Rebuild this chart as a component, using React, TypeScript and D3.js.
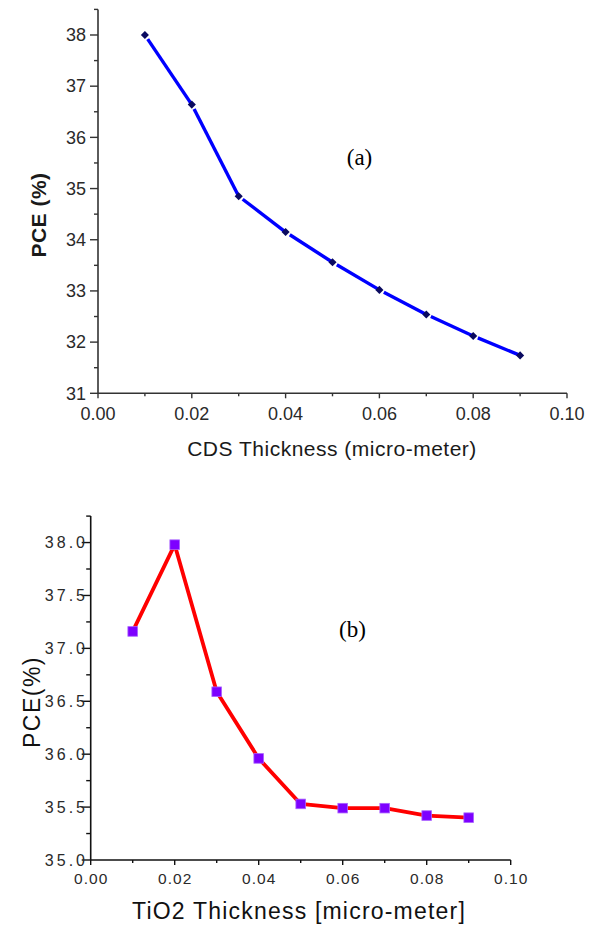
import React from "react";
import * as d3 from "d3";

// ---- Data ----
const cdsThickness = [0.01, 0.02, 0.03, 0.04, 0.05, 0.06, 0.07, 0.08, 0.09];
const cdsPCE = [38.0, 36.64, 34.85, 34.15, 33.56, 33.02, 32.54, 32.12, 31.74];

const tioThickness = [0.01, 0.02, 0.03, 0.04, 0.05, 0.06, 0.07, 0.08, 0.09];
const tioPCE = [37.16, 37.98, 36.59, 35.96, 35.53, 35.49, 35.49, 35.42, 35.40];

const xTicks = [0, 0.02, 0.04, 0.06, 0.08, 0.1];
const xMinorTicks = [0.01, 0.03, 0.05, 0.07, 0.09];
const yTicksA = [31, 32, 33, 34, 35, 36, 37, 38];
const yMinorTicksA = [31.5, 32.5, 33.5, 34.5, 35.5, 36.5, 37.5, 38.5];
const yTicksB = [35.0, 35.5, 36.0, 36.5, 37.0, 37.5, 38.0];
const yMinorTicksB = [35.25, 35.75, 36.25, 36.75, 37.25, 37.75, 38.25];

const SANS = "Arial, 'Liberation Sans', sans-serif";
const SERIF = "'Times New Roman', 'Liberation Serif', serif";

function trimmedSegments(pts: [number, number][], trimStart: number, trimEnd: number) {
  const segs: [number, number][][] = [];
  for (let i = 0; i < pts.length - 1; i++) {
    const [x0, y0] = pts[i];
    const [x1, y1] = pts[i + 1];
    const len = Math.hypot(x1 - x0, y1 - y0);
    const ux = (x1 - x0) / len;
    const uy = (y1 - y0) / len;
    segs.push([
      [x0 + ux * trimStart, y0 + uy * trimStart],
      [x1 - ux * trimEnd, y1 - uy * trimEnd],
    ]);
  }
  return segs;
}

export default function App() {
  // ---- Panel (a) ----
  const xA = d3.scaleLinear().domain([0, 0.1]).range([98, 567]);
  const yA = d3.scaleLinear().domain([31, 38.5]).range([393.3, 9.4]);
  const ptsA: [number, number][] = cdsThickness.map((t, i) => [xA(t), yA(cdsPCE[i])]);
  const lineGen = d3.line<[number, number]>().x((d) => d[0]).y((d) => d[1]);
  const segsA = trimmedSegments(ptsA, 5, 0);
  const diamond = d3.symbol().type(d3.symbolDiamond2).size(42)();

  // ---- Panel (b) ----
  const xB = d3.scaleLinear().domain([0, 0.1]).range([90.7, 510.7]);
  const yB = d3.scaleLinear().domain([35, 38.25]).range([860, 516.1]);
  const ptsB: [number, number][] = tioThickness.map((t, i) => [xB(t), yB(tioPCE[i])]);

  const axisA = "#333";
  const axisB = "#111";

  return (
    <svg width={590} height={927} style={{ position: "absolute", left: 0, top: 0, background: "#fff" }}>
      <rect x={0} y={0} width={590} height={927} fill="#fff" />
      {/* ===== Panel (a) ===== */}
      <g>
        <line x1={xA(0)} x2={xA(0)} y1={yA(38.5)} y2={yA(31)} stroke={axisA} strokeWidth={1.6} />
        <line x1={xA(0)} x2={xA(0.1)} y1={yA(31)} y2={yA(31)} stroke={axisA} strokeWidth={1.6} />
        {yTicksA.map((v) => (
          <g key={"ya" + v}>
            <line x1={xA(0) - 8} x2={xA(0)} y1={yA(v)} y2={yA(v)} stroke={axisA} strokeWidth={1.4} />
            <text x={86} y={yA(v) + 6.2} textAnchor="end" fontFamily={SANS} fontSize={18} fill="#2a2a2a">
              {d3.format("d")(v)}
            </text>
          </g>
        ))}
        {yMinorTicksA.map((v) => (
          <line key={"yma" + v} x1={xA(0) - 4} x2={xA(0)} y1={yA(v)} y2={yA(v)} stroke={axisA} strokeWidth={1.4} />
        ))}
        {xTicks.map((v) => (
          <g key={"xa" + v}>
            <line x1={xA(v)} x2={xA(v)} y1={yA(31)} y2={yA(31) + 5} stroke={axisA} strokeWidth={1.4} />
            <text x={xA(v)} y={419.5} textAnchor="middle" fontFamily={SANS} fontSize={18} fill="#2a2a2a">
              {d3.format(".2f")(v)}
            </text>
          </g>
        ))}
        {xMinorTicks.map((v) => (
          <line key={"xma" + v} x1={xA(v)} x2={xA(v)} y1={yA(31)} y2={yA(31) + 3} stroke={axisA} strokeWidth={1.4} />
        ))}
        {segsA.map((s, i) => (
          <path key={"sa" + i} d={lineGen(s) || ""} stroke="#0000ff" strokeWidth={3.4} fill="none" />
        ))}
        {ptsA.map((p, i) => (
          <path key={"ma" + i} d={diamond || ""} transform={`translate(${p[0]},${p[1]})`} fill="#0a0a60" />
        ))}
        <text x={332} y={456} textAnchor="middle" fontFamily={SANS} fontSize={21} letterSpacing={0.5} fill="#1a1a1a">
          CDS Thickness (micro-meter)
        </text>
        <text
          transform={`translate(46,215) rotate(-90)`}
          textAnchor="middle"
          fontFamily={SANS}
          fontSize={21}
          fontWeight="bold"
          letterSpacing={0.5}
          fill="#1a1a1a"
        >
          PCE (%)
        </text>
        <text x={359.5} y={165} textAnchor="middle" fontFamily={SERIF} fontSize={23} fill="#000">
          (a)
        </text>
      </g>

      {/* ===== Panel (b) ===== */}
      <g>
        <line x1={xB(0)} x2={xB(0)} y1={yB(38.25)} y2={yB(35)} stroke={axisB} strokeWidth={1.6} />
        <line x1={xB(0)} x2={xB(0.1)} y1={yB(35)} y2={yB(35)} stroke={axisB} strokeWidth={1.6} />
        {yTicksB.map((v) => (
          <g key={"yb" + v}>
            <line x1={xB(0) - 9} x2={xB(0)} y1={yB(v)} y2={yB(v)} stroke={axisB} strokeWidth={1.4} />
            <text x={88} y={yB(v) + 5.5} textAnchor="end" fontFamily={SANS} fontSize={16} letterSpacing={3} fill="#2a2a2a">
              {d3.format(".1f")(v)}
            </text>
          </g>
        ))}
        {yMinorTicksB.map((v) => (
          <line key={"ymb" + v} x1={xB(0) - 4.5} x2={xB(0)} y1={yB(v)} y2={yB(v)} stroke={axisB} strokeWidth={1.4} />
        ))}
        {xTicks.map((v) => (
          <g key={"xb" + v}>
            <line x1={xB(v)} x2={xB(v)} y1={yB(35)} y2={yB(35) + 5} stroke={axisB} strokeWidth={1.4} />
            <text x={xB(v) + 0.5} y={884} textAnchor="middle" fontFamily={SANS} fontSize={15.5} letterSpacing={1} fill="#2a2a2a">
              {d3.format(".2f")(v)}
            </text>
          </g>
        ))}
        {xMinorTicks.map((v) => (
          <line key={"xmb" + v} x1={xB(v)} x2={xB(v)} y1={yB(35)} y2={yB(35) + 3} stroke={axisB} strokeWidth={1.4} />
        ))}
        <path d={lineGen(ptsB) || ""} stroke="#ff0000" strokeWidth={3.8} fill="none" strokeLinejoin="round" />
        {ptsB.map((p, i) => (
          <rect
            key={"mb" + i}
            x={p[0] - 4.8}
            y={p[1] - 4.8}
            width={9.6}
            height={9.6}
            fill="#7d00ff"
            stroke="#a860ff"
            strokeWidth={0.8}
          />
        ))}
        <text x={299} y={919} textAnchor="middle" fontFamily={SANS} fontSize={23} letterSpacing={1.2} fill="#111">
          TiO2 Thickness [micro-meter]
        </text>
        <text
          transform={`translate(40,702) rotate(-90)`}
          textAnchor="middle"
          fontFamily={SANS}
          fontSize={23}
          letterSpacing={1.5}
          fill="#111"
        >
          PCE(%)
        </text>
        <text x={352.5} y={637} textAnchor="middle" fontFamily={SERIF} fontSize={23} fill="#000">
          (b)
        </text>
      </g>
    </svg>
  );
}
